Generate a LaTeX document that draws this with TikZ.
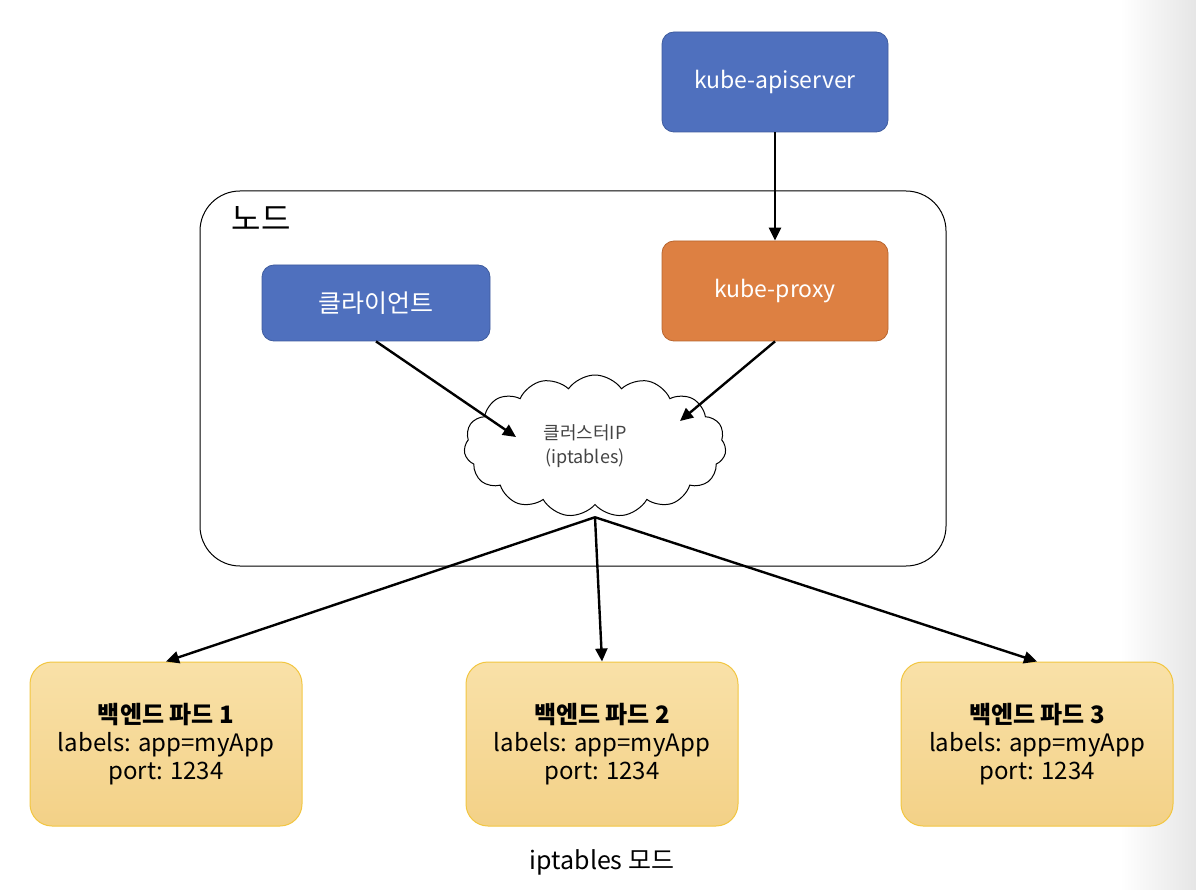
\documentclass[tikz,border=0pt]{standalone}
\usepackage{fontspec}
\setmainfont{Noto Sans CJK KR}
\usetikzlibrary{shapes.symbols,arrows.meta}
\definecolor{bluefill}{HTML}{4F70BE}
\definecolor{blueborder}{HTML}{3F5C9E}
\definecolor{orangefill}{HTML}{DD8042}
\definecolor{orangeborder}{HTML}{B8652E}
\definecolor{podtop}{HTML}{F9E1A8}
\definecolor{podbottom}{HTML}{F3D187}
\definecolor{podborder}{HTML}{F2C641}
\definecolor{cloudtext}{HTML}{444444}
\begin{document}
\begin{tikzpicture}[x=1pt,y=-1pt,
  bluebox/.style={rounded corners=12pt, fill=bluefill, draw=blueborder, line width=0.8pt, text=white,
    font=\fontsize{23}{26}\selectfont, minimum width=226pt, minimum height=100pt, inner sep=0pt},
  orangebox/.style={bluebox, fill=orangefill, draw=orangeborder},
  container/.style={draw=black, line width=1pt, rounded corners=40pt, minimum width=746pt, minimum height=375pt, inner sep=0pt},
  podbox/.style={rounded corners=22pt, top color=podtop, bottom color=podbottom, draw=podborder, line width=1pt,
    minimum width=272pt, minimum height=164pt, align=center, font=\fontsize{24}{28}\selectfont, inner sep=0pt},
  conn/.style={line width=2.4pt, -{Triangle[length=13pt,width=12pt]}},
  cloudnode/.style={cloud, cloud puffs=15, cloud puff arc=110, draw=black, line width=1pt, fill=white,
    minimum width=262pt, minimum height=142pt, aspect=1.9, align=center, text=cloudtext,
    font=\fontsize{18}{24}\selectfont, inner sep=0pt}
]
\useasboundingbox (0,0) rectangle (1196,890);
\shade[left color=white, right color=black!10] (1120,0) rectangle (1196,890);

\node[bluebox] (api) at (775,82) {kube-apiserver};
\node[container] (nodebox) at (573,378.5) {};
\node[font=\fontsize{32}{34}\selectfont] (nodelabel) at (261,219) {노드};
\node[bluebox, minimum width=228pt, minimum height=76pt, font=\fontsize{25}{28}\selectfont] (client) at (376,303) {클라이언트};
\node[orangebox] (proxy) at (775,291) {kube-proxy};
\node[cloudnode] (cip) at (595,446) {\hspace*{-20pt}클러스터IP\\\hspace*{-20pt}(iptables)};
\coordinate (cin1) at (516,437);
\coordinate (cin2) at (680,421);

\node[podbox] (pod1) at (166,744) {\textbf{백엔드 파드 1}\\labels: app=myApp\\port: 1234};
\node[podbox] (pod2) at (602,744) {\textbf{백엔드 파드 2}\\labels: app=myApp\\port: 1234};
\node[podbox] (pod3) at (1037,744) {\textbf{백엔드 파드 3}\\labels: app=myApp\\port: 1234};

\node[font=\fontsize{25}{28}\selectfont] (caption) at (602,862) {iptables 모드};

\draw[conn] (api.south) -- (proxy.north);
\draw[conn] (client.south) -- (cin1);
\draw[conn] (proxy.south) -- (cin2);
\draw[conn] ([yshift=-12pt]cip.south) -- (pod1.north);
\draw[conn] ([yshift=-12pt]cip.south) -- (pod2.north);
\draw[conn] ([yshift=-12pt]cip.south) -- (pod3.north);
\end{tikzpicture}
\end{document}
